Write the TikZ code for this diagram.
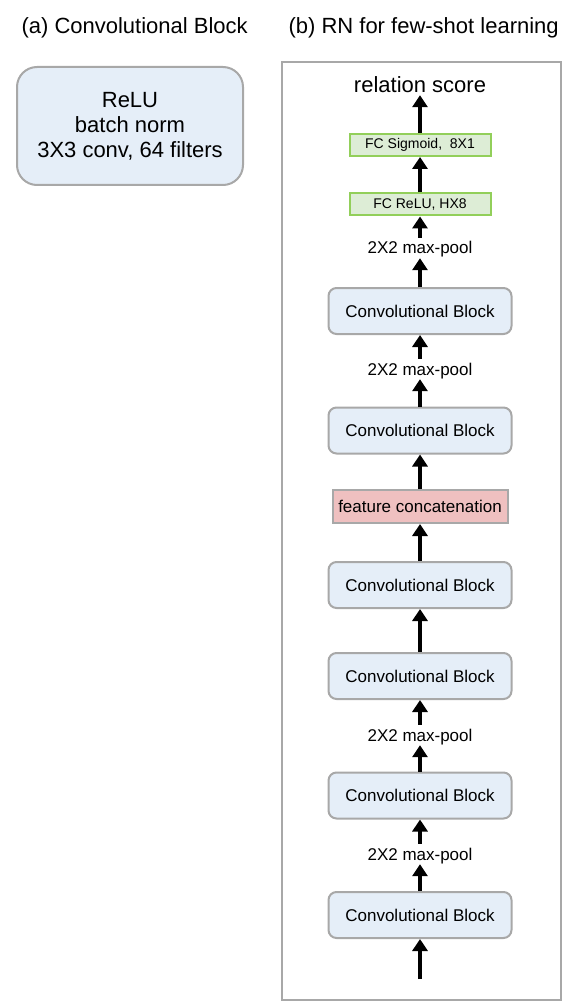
\documentclass[tikz,border=0pt]{standalone}
\usepackage{fontspec}
\setmainfont{Liberation Sans}
\usetikzlibrary{positioning,arrows.meta}
\definecolor{convfill}{HTML}{E5EEF8}
\definecolor{boxgray}{HTML}{A8A8A8}
\definecolor{fcfill}{HTML}{DDEDD6}
\definecolor{fcline}{HTML}{92CF5A}
\definecolor{catfill}{HTML}{EFC0C0}
\begin{document}
\begin{tikzpicture}[x=1pt, y=-1pt, node distance=60pt, on grid,
  conv/.style={draw=boxgray, fill=convfill, line width=2pt, rounded corners=8pt,
    minimum width=183pt, minimum height=46pt, font=\fontsize{17}{20}\selectfont},
  fc/.style={draw=fcline, fill=fcfill, line width=2pt, minimum width=141pt,
    minimum height=22pt, inner sep=1pt, font=\fontsize{14}{16}\selectfont},
  cat/.style={draw=boxgray, fill=catfill, line width=2pt, minimum width=175pt,
    minimum height=33pt, inner sep=1pt, font=\fontsize{17}{20}\selectfont},
  pool/.style={font=\fontsize{17}{20}\selectfont, text height=12pt, text depth=0pt, inner sep=4pt},
  title/.style={font=\fontsize{22}{25}\selectfont, anchor=west},
  arr/.style={-{Triangle[width=15pt,length=12pt]}, line width=4.5pt}]
\useasboundingbox (0,0) rectangle (580,1008);
% (a) convolutional block
\node[title] (ta) at (18,28) {(a) Convolutional Block};
\node[draw=boxgray, fill=convfill, line width=2pt, rounded corners=20pt,
  minimum width=226pt, minimum height=118pt, align=center,
  font=\fontsize{22}{25}\selectfont] (blk) at (130,126)
  {ReLU\\batch norm\\3X3 conv, 64 filters};
% (b) relation network
\node[title] (tb) at (285,28) {(b) RN for few-shot learning};
\draw[boxgray, line width=2pt] (282,62) rectangle (561,1000);
\node[conv] (c6) at (420,915) {Convolutional Block};
\coordinate[below=64pt of c6] (in);
\node[pool] (p4) [above=61pt of c6] {2X2 max-pool};
\node[conv] (c5) [above=58.5pt of p4] {Convolutional Block};
\node[pool] (p3) [above=60.5pt of c5] {2X2 max-pool};
\node[conv] (c4) [above=59pt of p3] {Convolutional Block};
\node[conv] (c3) [above=91pt of c4] {Convolutional Block};
\node[cat] (fcat) [above=78.5pt of c3] {feature concatenation};
\node[conv] (c2) [above=76pt of fcat] {Convolutional Block};
\node[pool] (p2) [above=61.5pt of c2] {2X2 max-pool};
\node[conv] (c1) [above=58pt of p2] {Convolutional Block};
\node[pool] (p1) [above=63pt of c1] {2X2 max-pool};
\node[fc] (fcr) [above=43.5pt of p1] {FC ReLU, HX8};
\node[fc] (fcs) [above=59.5pt of fcr] {FC Sigmoid,\ \ 8X1};
\node[font=\fontsize{22}{25}\selectfont, text height=16pt, text depth=0pt, inner sep=2pt]
  (score) [above of=fcs] {relation score};
\path[arr]
(in) edge (c6)
(c6) edge (p4)
(p4) edge (c5)
(c5) edge (p3)
(p3) edge (c4)
(c4) edge (c3)
(c3) edge (fcat)
(fcat) edge (c2)
(c2) edge (p2)
(p2) edge (c1)
(c1) edge (p1)
(p1) edge (fcr)
(fcr) edge (fcs)
(fcs) edge (score);
\end{tikzpicture}
\end{document}
